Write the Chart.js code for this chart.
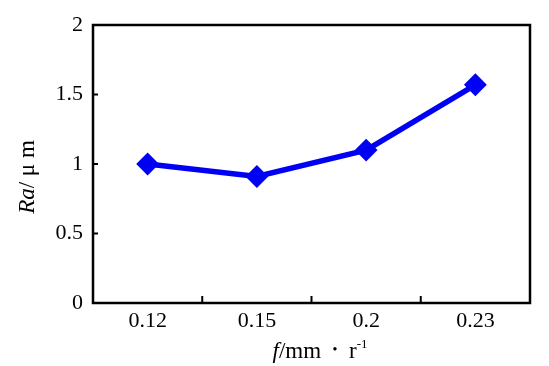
<!DOCTYPE html>
<html>
<head>
<meta charset="utf-8">
<script src="https://cdn.jsdelivr.net/npm/chart.js@4/dist/chart.umd.min.js"></script>
<style>
  html, body { margin: 0; padding: 0; background: #fff; }
  #wrap { width: 549px; height: 366px; }
</style>
</head>
<body>
<div id="wrap"><canvas id="chart" width="549" height="366"></canvas></div>
<script>
'use strict';

const feedRates = ['0.12', '0.15', '0.2', '0.23'];
const roughness = [1.0, 0.91, 1.1, 1.57];
const yTicks = [0, 0.5, 1, 1.5, 2];

const serif = '"Liberation Serif", "Times New Roman", serif';
const lineBlue = '#0000f5';

// frame, inward tick marks and the mixed-style axis titles
const framePlugin = {
  id: 'frame',
  afterDraw: function (chart) {
    const ctx = chart.ctx;
    const area = chart.chartArea;
    const x = chart.scales.x;
    const y = chart.scales.y;

    ctx.save();
    ctx.strokeStyle = '#000';
    ctx.lineWidth = 2.5;
    ctx.strokeRect(area.left, area.top, area.right - area.left, area.bottom - area.top);

    ctx.lineWidth = 2;
    ctx.beginPath();
    yTicks.forEach(function (v) {
      const py = y.getPixelForValue(v);
      ctx.moveTo(area.left, py);
      ctx.lineTo(area.left + 5, py);
    });
    for (let i = 0; i < feedRates.length - 1; i++) {
      const px = (x.getPixelForValue(i) + x.getPixelForValue(i + 1)) / 2;
      ctx.moveTo(px, area.bottom);
      ctx.lineTo(px, area.bottom - 7);
    }
    ctx.stroke();

    ctx.fillStyle = '#000';
    ctx.textBaseline = 'alphabetic';

    // y title: Ra/ μ m
    ctx.save();
    ctx.translate(34, 177);
    ctx.rotate(-Math.PI / 2);
    const yParts = [
      { t: 'Ra', f: 'italic 23px ' + serif },
      { t: '/ μ m', f: '23px ' + serif },
    ];
    let total = 0;
    yParts.forEach(function (p) { ctx.font = p.f; total += ctx.measureText(p.t).width; });
    let cx = -total / 2;
    yParts.forEach(function (p) {
      ctx.font = p.f;
      ctx.fillText(p.t, cx, 0);
      cx += ctx.measureText(p.t).width;
    });
    ctx.restore();

    // x title: f/mm • r^-1
    const xParts = [
      { t: 'f', f: 'italic 23px ' + serif, dy: 0 },
      { t: '/mm  ', f: '23px ' + serif, dy: 0 },
      { t: '•', f: '14px ' + serif, dy: -4 },
      { t: '  r', f: '23px ' + serif, dy: 0 },
      { t: '-1', f: '13px ' + serif, dy: -10 },
    ];
    total = 0;
    xParts.forEach(function (p) { ctx.font = p.f; total += ctx.measureText(p.t).width; });
    cx = 320 - total / 2;
    xParts.forEach(function (p) {
      ctx.font = p.f;
      ctx.fillText(p.t, cx, 358 + p.dy);
      cx += ctx.measureText(p.t).width;
    });
    ctx.restore();
  },
};

new Chart(document.getElementById('chart'), {
  type: 'line',
  data: {
    labels: feedRates,
    datasets: [{
      data: roughness,
      borderColor: lineBlue,
      backgroundColor: lineBlue,
      borderWidth: 5.5,
      pointStyle: 'rectRot',
      pointRadius: 10,
      pointBorderWidth: 2,
      pointBackgroundColor: lineBlue,
      pointBorderColor: lineBlue,
      tension: 0,
    }],
  },
  options: {
    responsive: false,
    animation: false,
    layout: { padding: { top: 25, right: 19, left: 0, bottom: 0 } },
    plugins: {
      legend: { display: false },
      tooltip: { enabled: false },
    },
    scales: {
      x: {
        type: 'category',
        offset: true,
        grid: { display: false, drawTicks: false },
        border: { display: false },
        ticks: {
          color: '#000',
          padding: 5,
          maxRotation: 0,
          font: { family: serif, size: 22 },
        },
        afterFit: function (scale) { scale.height = 63; },
      },
      y: {
        min: 0,
        max: 2,
        grid: { display: false, drawTicks: false },
        border: { display: false },
        ticks: {
          color: '#000',
          padding: 10,
          stepSize: 0.5,
          font: { family: serif, size: 22 },
          callback: function (v) { return yTicks.indexOf(v) >= 0 ? String(v) : ''; },
        },
        afterFit: function (scale) { scale.width = 93; },
      },
    },
  },
  plugins: [framePlugin],
});
</script>
</body>
</html>
